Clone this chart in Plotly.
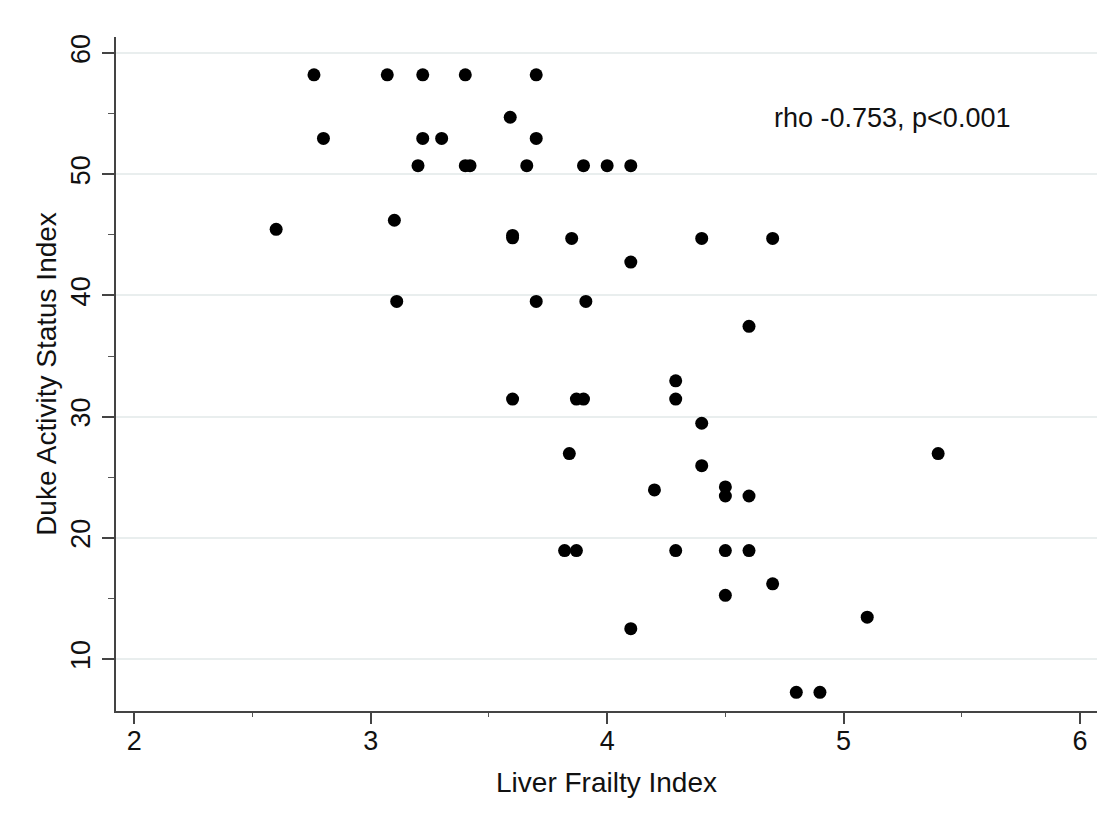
import plotly.graph_objects as go

# Liver Frailty Index (x) vs Duke Activity Status Index (y)
lfi = [2.76, 3.07, 3.22, 3.40, 3.70,
       3.59,
       2.80, 3.22, 3.30, 3.70,
       3.20, 3.40, 3.42, 3.66, 3.90, 4.00, 4.10,
       2.60, 3.10, 3.60, 3.60, 3.85, 4.40, 4.70,
       4.10,
       3.11, 3.70, 3.91,
       4.60,
       4.29, 3.60, 3.87, 3.90, 4.29,
       4.40, 3.84, 5.40, 4.40,
       4.20, 4.50, 4.50, 4.60,
       3.82, 3.87, 4.29, 4.50, 4.60,
       4.70, 4.50, 5.10, 4.10, 4.80, 4.90]
dasi = [58.2, 58.2, 58.2, 58.2, 58.2,
        54.7,
        52.95, 52.95, 52.95, 52.95,
        50.7, 50.7, 50.7, 50.7, 50.7, 50.7, 50.7,
        45.45, 46.2, 44.95, 44.75, 44.7, 44.7, 44.7,
        42.75,
        39.5, 39.5, 39.5,
        37.45,
        32.95, 31.45, 31.45, 31.45, 31.45,
        29.45, 26.95, 26.95, 25.95,
        23.95, 24.2, 23.45, 23.45,
        18.95, 18.95, 18.95, 18.95, 18.95,
        16.2, 15.25, 13.45, 12.5, 7.25, 7.25]

x_ticks = [2, 3, 4, 5, 6]
y_ticks = [10, 20, 30, 40, 50, 60]
annotation_text = "rho -0.753, p<0.001"

FONT = "Liberation Sans, Arial, sans-serif"

fig = go.Figure(go.Scatter(
    x=lfi, y=dasi, mode="markers",
    marker=dict(size=13, color="black", line=dict(width=0)),
    hoverinfo="x+y", showlegend=False,
))

# page body has an 8px default margin, so the figure is sized/offset to compensate
fig.update_layout(
    width=1112, height=811,
    margin=dict(l=108, r=23, t=29, b=108),
    paper_bgcolor="white", plot_bgcolor="white",
    font=dict(family=FONT, size=28, color="#111111"),
    xaxis=dict(
        range=[1.9226, 6.0719], tickvals=x_ticks, showgrid=False, zeroline=False,
        showline=True, linecolor="#444444", linewidth=2,
        ticks="outside", ticklen=11, tickwidth=1.5, tickcolor="#444444",
        minor=dict(dtick=0.5, tick0=0, ticks="outside", ticklen=4, tickwidth=1.2, tickcolor="#555555", showgrid=False),
        tickfont=dict(size=27), ticklabelstandoff=-6,
        title=dict(text="Liver Frailty Index", font=dict(size=28), standoff=17),
    ),
    yaxis=dict(
        range=[5.71, 61.32], tickvals=y_ticks, showgrid=True, gridcolor="#e9eeee", gridwidth=1.5,
        zeroline=False, showline=True, linecolor="#444444", linewidth=2,
        ticks="outside", ticklen=12, tickwidth=1.5, tickcolor="#444444",
        minor=dict(dtick=5, tick0=5, ticks="outside", ticklen=6, tickwidth=1.2, tickcolor="#555555", showgrid=False),
        tickangle=-90, tickfont=dict(size=27), ticklabelstandoff=1,
        title=dict(text="Duke Activity Status Index", font=dict(size=28), standoff=1),
    ),
    annotations=[dict(
        x=4.697, y=54.64, xref="x", yref="y", text=annotation_text,
        showarrow=False, xanchor="left", yanchor="middle",
        font=dict(family=FONT, size=27, color="#111111"),
    )],
    shapes=[dict(type="line", xref="paper", yref="paper",
                 x0=-0.105, x1=1.03, y0=1.046, y1=1.046,
                 line=dict(color="#e8e8e8", width=2))],
)

fig.write_html("out.html")
